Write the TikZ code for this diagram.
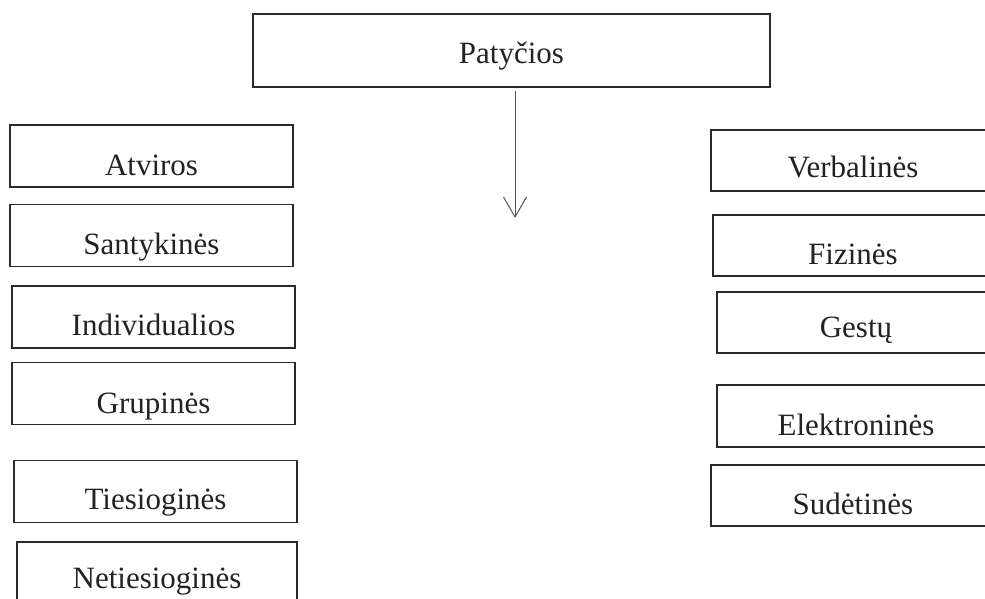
\documentclass[tikz,border=0pt]{standalone}
\usepackage{fontspec}
\setmainfont{Liberation Serif}
\usetikzlibrary{arrows.meta}
\definecolor{ink}{HTML}{222222}
\definecolor{edge}{HTML}{2A2A2A}
\definecolor{arr}{HTML}{555555}
\tikzset{
  bx/.style={draw=edge, line width=1.3pt, inner sep=0pt, outer sep=0pt,
    text=ink, font=\fontsize{31}{37}\selectfont, text depth=0pt, text height=#1},
  leftbox/.style={bx=#1, minimum width=283pt, minimum height=62pt},
  rightbox/.style={bx=#1, minimum width=282pt, minimum height=61pt},
  conn/.style={draw=arr, line width=1pt, -{Straight Barb[length=20pt,width=23pt,line width=1pt]}}
}
\begin{document}
\begin{tikzpicture}[x=1pt,y=-1pt]
\useasboundingbox (0,0) rectangle (985,598);
\clip (0,0) rectangle (985,598);
% top
\node[bx=25pt, minimum width=517pt, minimum height=73pt] (top) at (511.5,50.5) {Patyčios};
% left column
\node[leftbox=38pt] (atv) at (151.5,156) {Atviros};
\node[leftbox=37pt] (san) at (151.5,235.5) {Santykinės};
\node[leftbox=36pt] (ind) at (153.5,317) {Individualios};
\node[leftbox=39pt] (gru) at (153.5,393.5) {Grupinės};
\node[leftbox=35pt, minimum width=283pt] (tie) at (155.5,491.5) {Tiesioginės};
\node[leftbox=30pt, minimum width=280pt] (net) at (157,573) {Netiesioginės};
% right column
\node[rightbox=34pt, minimum width=284pt] (ver) at (853,160.5) {Verbalinės};
\node[rightbox=37pt, minimum width=280pt] (fiz) at (853,245.5) {Fizinės};
\node[rightbox=29pt, minimum width=278pt] (ges) at (856,322.5) {Gestų};
\node[rightbox=38pt, minimum width=278pt, minimum height=62pt] (ele) at (856,416) {Elektroninės};
\node[rightbox=37pt, minimum width=284pt] (sud) at (853,495.5) {Sudėtinės};
% arrow
\coordinate (tip) at (515,218);
\draw[conn] (top.south -| tip) ++(0,4) -- (tip);
\end{tikzpicture}
\end{document}
